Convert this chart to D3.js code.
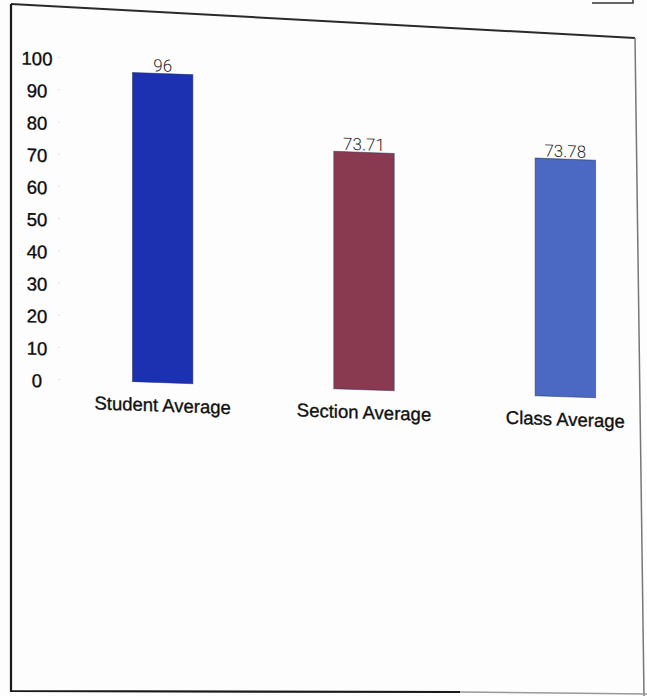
<!DOCTYPE html>
<html>
<head>
  <meta charset="UTF-8">
  <style>
    body {
      margin: 0;
      padding: 0;
      background-color: #fdfdfd;
    }
    svg {
      display: block;
      font-family: "Liberation Sans", Arial, sans-serif;
    }
    .tick text {
      font-size: 18.5px;
      fill: #0d0d0d;
      stroke: #0d0d0d;
      stroke-width: 0.35px;
    }
    .cat {
      font-size: 18.5px;
      fill: #111;
      stroke: #111;
      stroke-width: 0.35px;
    }
    .val {
      font-family: Roboto, "Liberation Sans", sans-serif;
      font-weight: 300;
      font-size: 17px;
      fill: #2a2a2a;
    }
  </style>
</head>
<body>
<svg></svg>
<script src="https://d3js.org/d3.v7.min.js"></script>
<script>
let width = 647, height = 696;

// chart data
let categories = ["Student Average", "Section Average", "Class Average"];
let values = [96, 73.71, 73.78];
let valueLabels = ["96", "73.71", "73.78"];
let barColors = ["#1b31b2", "#8a3a50", "#4b68c2"];
let yTicks = [0, 10, 20, 30, 40, 50, 60, 70, 80, 90, 100];

let svg = d3.select("svg")
    .attr("width", width)
    .attr("height", height);

// paper frame (photo is a bit skewed)
let line = d3.line();
svg.append("path")
    .attr("d", line([[11, 4], [635, 38]]))
    .attr("fill", "none")
    .attr("stroke", "#2a2a2a")
    .attr("stroke-width", 2);
svg.append("path")
    .attr("d", line([[635, 38], [644, 696]]))
    .attr("fill", "none")
    .attr("stroke", "#777")
    .attr("stroke-width", 1.5);
svg.append("path")
    .attr("d", line([[11, 4], [11, 691], [460, 692]]))
    .attr("fill", "none")
    .attr("stroke", "#1a1a1a")
    .attr("stroke-width", 2.2);
svg.append("path")
    .attr("d", line([[460, 692], [647, 694]]))
    .attr("fill", "none")
    .attr("stroke", "#999")
    .attr("stroke-width", 1.5);
svg.append("path")
    .attr("d", line([[592, 3], [633, 3], [633, 0]]))
    .attr("fill", "none")
    .attr("stroke", "#333")
    .attr("stroke-width", 1.5);

// chart, slightly skewed to follow the photo
let g = svg.append("g")
    .attr("transform", "skewY(2)");

let x = d3.scaleBand()
    .domain(categories)
    .range([62, 666])
    .paddingInner(0.7)
    .paddingOuter(0.35);

let y = d3.scaleLinear()
    .domain([0, 100])
    .range([377, 55]);

let yAxis = g.append("g")
    .attr("transform", "translate(60,0)")
    .call(d3.axisLeft(y).tickValues(yTicks).tickSize(2).tickPadding(-1));
yAxis.select(".domain").remove();
yAxis.selectAll(".tick line").attr("stroke", "#ddd");
yAxis.selectAll(".tick text")
    .attr("text-anchor", "middle")
    .attr("x", -23)
    .attr("dy", "0.45em");

g.selectAll(".bar")
    .data(values)
    .enter()
    .append("rect")
    .attr("class", "bar")
    .attr("x", (d, i) => x(categories[i]))
    .attr("y", d => y(d))
    .attr("width", x.bandwidth())
    .attr("height", d => y(0) - y(d))
    .attr("fill", (d, i) => barColors[i])
    .attr("stroke", "#222a55")
    .attr("stroke-opacity", 0.5)
    .attr("stroke-width", 1);

g.selectAll(".val")
    .data(values)
    .enter()
    .append("text")
    .attr("class", "val")
    .attr("x", (d, i) => x(categories[i]) + x.bandwidth() / 2)
    .attr("y", d => y(d) - 2)
    .attr("text-anchor", "middle")
    .text((d, i) => valueLabels[i]);

g.selectAll(".cat")
    .data(categories)
    .enter()
    .append("text")
    .attr("class", "cat")
    .attr("x", d => x(d) + x.bandwidth() / 2)
    .attr("y", y(0) + 29)
    .attr("text-anchor", "middle")
    .text(d => d);
</script>
</body>
</html>
